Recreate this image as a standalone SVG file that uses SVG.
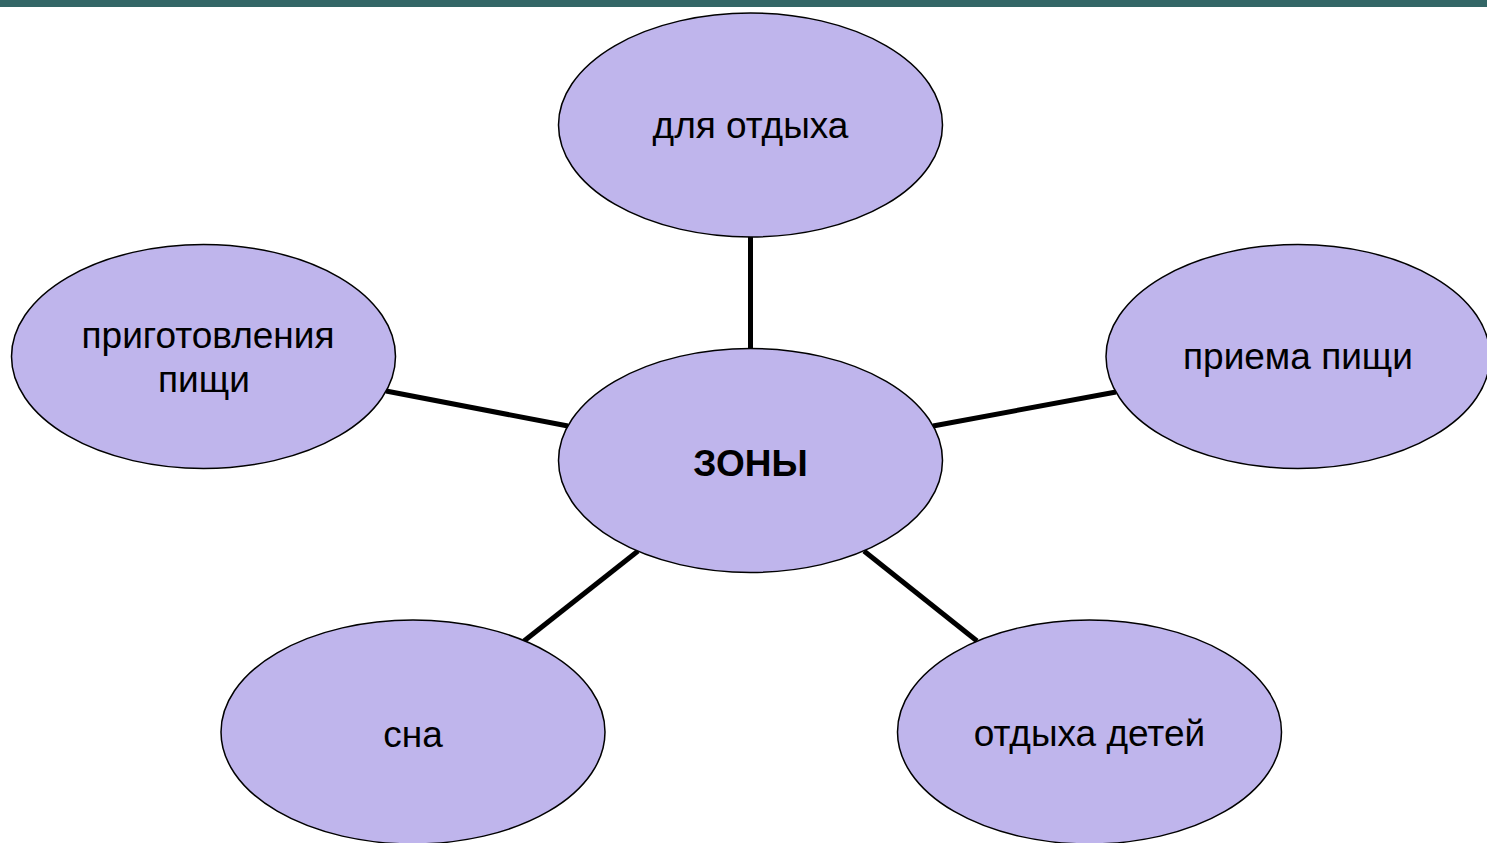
<svg xmlns="http://www.w3.org/2000/svg" width="1487" height="843" viewBox="0 0 1487 843">
<style>
.node ellipse{fill:#BFB5EC;stroke:#000;stroke-width:1.5}
.node text{font-family:"Liberation Sans",Arial,sans-serif;font-size:37px;fill:#000;text-anchor:middle}
.conn line{stroke:#000;stroke-width:5}
</style>
<rect x="0" y="0" width="1487" height="843" fill="#fff"/>
<rect x="0" y="0" width="1487" height="7" fill="#336666"/>
<g id="connectors" class="conn">
<line x1="750.5" y1="236" x2="750.5" y2="349"/>
<line x1="386" y1="391" x2="568" y2="426"/>
<line x1="933" y1="426" x2="1116" y2="392"/>
<line x1="638" y1="551" x2="524" y2="641"/>
<line x1="864" y1="551" x2="977" y2="641"/>
</g>
<g id="top" class="node"><ellipse cx="750.5" cy="125" rx="192" ry="112"/><text x="750.5" y="138">для отдыха</text></g>
<g id="center" class="node"><ellipse cx="750.5" cy="460.5" rx="192" ry="112"/><text x="750.5" y="475.5" font-weight="bold">ЗОНЫ</text></g>
<g id="left" class="node"><ellipse cx="203.5" cy="356.5" rx="192" ry="112"/><text x="208" y="348">приготовления</text><text x="204" y="392">пищи</text></g>
<g id="right" class="node"><ellipse cx="1298" cy="356.5" rx="192" ry="112"/><text x="1298" y="369">приема пищи</text></g>
<g id="bottomleft" class="node"><ellipse cx="413" cy="732" rx="192" ry="112"/><text x="413" y="747">сна</text></g>
<g id="bottomright" class="node"><ellipse cx="1089.5" cy="732" rx="192" ry="112"/><text x="1089.5" y="746">отдыха детей</text></g>
</svg>
